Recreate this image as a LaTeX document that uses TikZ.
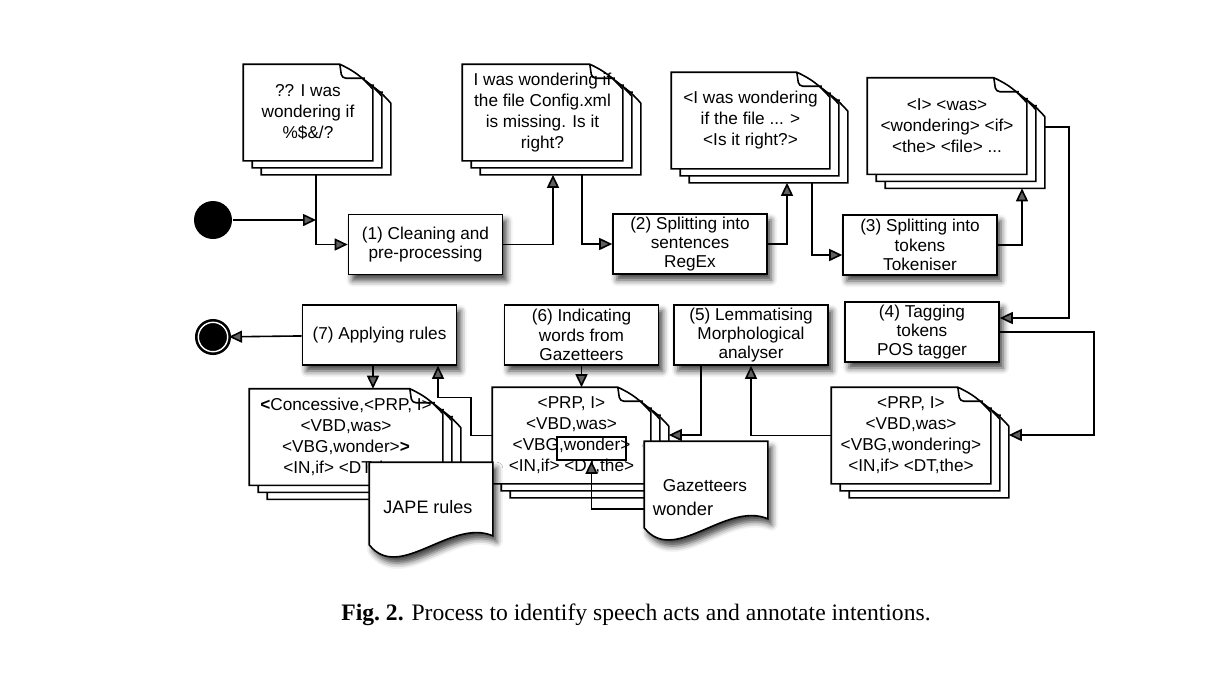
\documentclass[tikz,border=0pt]{standalone}
\usepackage{fontspec}
\setmainfont{Liberation Sans}
\newfontfamily\capfont{Liberation Serif}
\usetikzlibrary{arrows.meta,shadows.blur}

\newcommand{\dogear}[1]{%
  \draw[fill=white] (#1.south west) -- (#1.north west) -- ([xshift=-16.5pt]#1.north east)
    to[bend left=12] ([yshift=-12.5pt]#1.north east) -- (#1.south east) -- cycle;
  \draw[rounded corners=2pt] ([xshift=-16.5pt]#1.north east) -- ([xshift=-15.5pt,yshift=-7pt]#1.north east)
    -- ([xshift=-4pt,yshift=-7pt]#1.north east);
}
\newcommand{\docstack}[4]{%
  \foreach \n in {2,1}{
    \node[docpage,minimum width=#3,shift={(\n*9,\n*7)}] (#1-\n) at (#2) {};
    \dogear{#1-\n}
  }
  \node[docpage,minimum width=#3] (#1) at (#2) {};
  \dogear{#1}
  \node[doctext] (#1-t) at (#1) {#4};
}
\newcommand{\wavydoc}[1]{%
  \draw[fill=white,blur shadow={shadow xshift=2pt,shadow yshift=-3pt,shadow blur radius=3pt,shadow opacity=75}]
    (#1.south east) -- (#1.north east) -- (#1.north west) -- ([yshift=-4.5pt]#1.south west)
    .. controls +(15pt,-19pt) and +(-21pt,9pt) .. (#1.south east) -- cycle;
}

\begin{document}
\begin{tikzpicture}[x=0.5pt,y=-0.5pt,line width=0.8pt]
\tikzstyle{docpage}=[rectangle,minimum height=47.5pt,inner sep=0pt]
\tikzstyle{doctext}=[align=center,inner sep=0pt,font=\fontsize{8.6}{10.5}\selectfont]
\tikzstyle{proc}=[draw,fill=white,rectangle,minimum width=77pt,minimum height=30pt,inner sep=0pt,align=center,
  font=\fontsize{8.6}{9.6}\selectfont,
  blur shadow={shadow xshift=2pt,shadow yshift=-3pt,shadow blur radius=3pt,shadow opacity=75}]
\tikzstyle{wavy}=[rectangle,minimum width=61pt,inner sep=0pt]
\tikzstyle{startdot}=[circle,fill=black,minimum size=19pt,inner sep=0pt]
\tikzstyle{enddot}=[circle,fill=black,draw=black,double=white,double distance=0.7pt,line width=1.3pt,
  minimum size=14.7pt,inner sep=0pt]
\tikzstyle{arr}=[-{Triangle[length=6.5pt,width=6pt]}]
\useasboundingbox (0,0) rectangle (1226,693);

\docstack{d1}{308,112.5}{64pt}{?? I was\\wondering if\\\%\$\&/?}
\docstack{d2}{542.5,112.5}{79.5pt}{I was wondering if\\the file Config.xml\\is missing. Is it\\right?}
\docstack{d3}{750.5,120.5}{78.5pt}{<I was wondering\\if the file ... >\\<Is it right?>}
\docstack{d4}{947,126}{79pt}{<I> <was>\\<wondering> <if>\\<the> <file> ...}
\docstack{d5}{911,435.5}{79pt}{<PRP, I>\\<VBD,was>\\<VBG,wondering>\\<IN,if> <DT,the>}
\docstack{d6}{571.5,435.5}{78.5pt}{<PRP, I>\\<VBD,was>\\<VBG,wonder>\\<IN,if> <DT,the>}
\docstack{d7}{346,437}{96pt}{\textbf{<}Concessive,<PRP, I>\\<VBD,was>\\<VBG,wonder>\textbf{>}\\<IN,if> <DT,the>}

\node[startdot] (start) at (213,220) {};
\node[enddot] (end) at (213,337) {};
\coordinate (j1) at (316,220);

\node[proc] (b1) at (425.5,244.5) {(1) Cleaning and\\pre-processing};
\node[proc] (b2) at (690,244) {(2) Splitting into\\sentences\\RegEx};
\node[proc] (b3) at (920,245) {(3) Splitting into\\tokens\\Tokeniser};
\node[proc] (b4) at (922,332) {(4) Tagging\\tokens\\POS tagger};
\node[proc] (b5) at (751,335) {(5) Lemmatising\\Morphological\\analyser};
\node[proc] (b6) at (581.5,335) {(6) Indicating\\words from\\Gazetteers};
\node[proc] (b7) at (379.5,335) {(7) Applying rules};

\node[wavy,minimum height=38pt] (gaz) at (706,480) {};
\wavydoc{gaz}
\node[doctext] (gaz-t) at (705,486) {Gazetteers};
\node[doctext,anchor=west,font=\fontsize{9.2}{11}\selectfont] (gaz-w) at (652,509) {wonder};
\node[wavy,minimum height=36pt] (jape) at (431,499) {};
\wavydoc{jape}
\node[doctext,font=\fontsize{9}{11}\selectfont] (jape-t) at (428,507) {JAPE rules};
\node[draw,rectangle,minimum width=34.5pt,minimum height=11.5pt,inner sep=0pt] (wbox) at (591.5,448.5) {};

\draw[arr] (start) -- (j1);
\draw[arr] ([xshift=-5pt]d1-2.south) |- (b1.west);
\draw[arr] (b1.east) -| ([xshift=-3.75pt]d2-2.south);
\draw[arr] ([xshift=10.75pt]d2-2.south) |- (b2.west);
\draw[arr] (b2.east) -| ([xshift=9.25pt]d3-2.south);
\draw[arr] ([xshift=21.75pt]d3-2.south) |- ([yshift=-5pt]b3.west);
\draw[arr] (b3.east) -| ([xshift=28.5pt]d4-2.south);
\draw[arr] ([yshift=6.5pt]d4-2.east) -- ++(24,0) |- ([yshift=7pt]b4.east);
\draw[arr] (b4.east) -- ++(94,0) |- ([yshift=7.25pt]d5-2.east);
\draw[arr] (d5.west) -| (b5.south);
\draw[arr] ([xshift=-25pt]b5.south) |- ([yshift=7.25pt]d6-2.east);
\draw[arr] (b6.south) -- (b6.south |- d6.north);
\draw[arr] (d6.west) -- ++(-21,0) -- ++(0,-38) -| ([xshift=29.25pt]b7.south);
\draw[arr] ([xshift=-3.25pt]b7.south) -- ([xshift=-3.25pt]b7.south |- d7.north);
\draw[arr] (b7) -- (end);
\draw[arr] (gaz.west |- gaz-w.west) -| (wbox.south);

\node[font=\capfont\fontsize{11.8}{14}\selectfont] (cap) at (636,615) {\textbf{Fig.~2.} Process to identify speech acts and annotate intentions.};
\end{tikzpicture}
\end{document}
